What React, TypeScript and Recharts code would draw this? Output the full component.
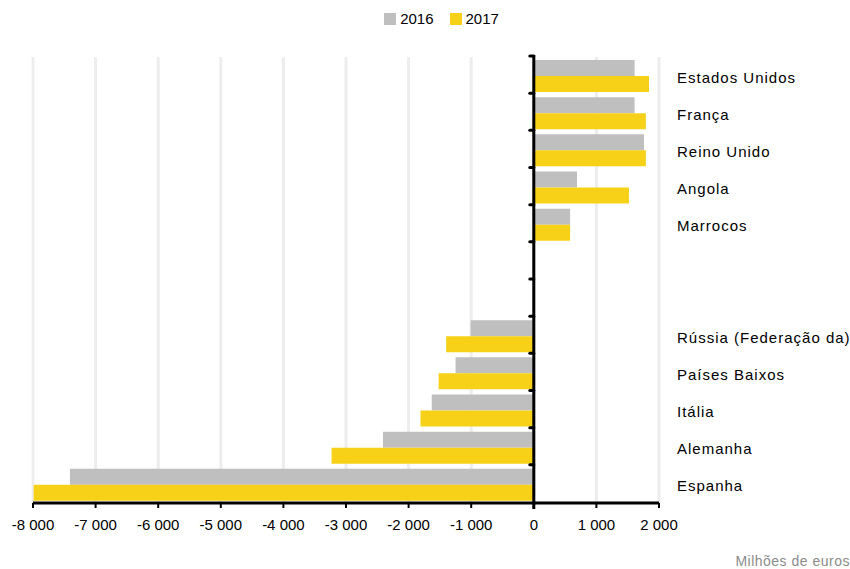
import React from 'react';
import { BarChart, Bar, XAxis, YAxis, CartesianGrid, Legend, ReferenceLine } from 'recharts';

// Países (as duas linhas em branco separam positivos de negativos)
const countries = [
    'Estados Unidos', 'França', 'Reino Unido', 'Angola', 'Marrocos', ' ', '  ',
    'Rússia (Federação da)', 'Países Baixos', 'Itália', 'Alemanha', 'Espanha',
];
const values2016 = [1610, 1610, 1760, 690, 580, null, null, -1010, -1250, -1630, -2410, -7410];
const values2017 = [1840, 1790, 1790, 1520, 580, null, null, -1400, -1520, -1810, -3230, -7990];
const xTicks = [-8000, -7000, -6000, -5000, -4000, -3000, -2000, -1000, 0, 1000, 2000];

const data = countries.map((name, i) => ({ name, '2016': values2016[i], '2017': values2017[i] }));

const FONT = '"Liberation Sans", Arial, sans-serif';
const GRAY = '#bfbfbf';
const YELLOW = '#f6d118';

const fmt = (n: number) => {
    if (n === 0) return '0';
    const abs = Math.abs(n);
    const s = abs >= 1000 ? `${Math.floor(abs / 1000)} ${String(abs % 1000).padStart(3, '0')}` : String(abs);
    return (n < 0 ? '-' : '') + s;
};

// linha do zero com pequenos traços entre as categorias
const ZeroLine = (props: any) => {
    const { x1 } = props;
    const top = Math.min(props.y1, props.y2);
    const bottom = Math.max(props.y1, props.y2);
    const n = countries.length;
    const step = (bottom - top) / n;
    return (
        <g>
            <line x1={x1} y1={top - 2} x2={x1} y2={bottom + 6} stroke="#000" strokeWidth={3} />
            {Array.from({ length: n }).map((_, i) => (
                <line key={i} x1={x1 - 4} x2={x1} y1={top - 1 + step * i} y2={top - 1 + step * i} stroke="#000" strokeWidth={3} strokeLinecap="round" />
            ))}
        </g>
    );
};

const LegendContent = () => (
    <div style={{ display: 'flex', justifyContent: 'center', fontSize: 15, fontFamily: FONT, color: '#000' }}>
        {[['2016', GRAY], ['2017', YELLOW]].map(([label, color]) => (
            <span key={label} style={{ display: 'inline-flex', alignItems: 'center', margin: '0 8px' }}>
                <span style={{ width: 12, height: 12, background: color, marginRight: 4, display: 'inline-block' }} />
                {label}
            </span>
        ))}
    </div>
);

const YTick = (props: any) => {
    const { x, y, payload } = props;
    return (
        <text x={x} y={y} dy={7} fill="#000" fontSize={15} fontFamily={FONT} letterSpacing={1} textAnchor="start">
            {payload.value}
        </text>
    );
};

const App: React.FC = () => {
    return (
        <div style={{ position: 'absolute', left: 0, top: 0, width: 850, height: 569, background: '#fff', fontFamily: FONT }}>
            <BarChart
                width={850}
                height={569}
                data={data}
                layout="vertical"
                margin={{ top: 30, right: 0, bottom: 36, left: 33 }}
                barCategoryGap={3}
                barGap={0}
            >
                <CartesianGrid horizontal={false} stroke="#ededed" strokeWidth={3} />
                <Legend verticalAlign="top" height={27} wrapperStyle={{ top: 10 }} content={<LegendContent />} />
                <XAxis
                    type="number"
                    domain={[-8000, 2000]}
                    ticks={xTicks}
                    tickFormatter={fmt}
                    axisLine={{ stroke: '#000', strokeWidth: 3 }}
                    tickLine={{ stroke: '#000', strokeWidth: 2 }}
                    tickSize={5}
                    tickMargin={11}
                    height={30}
                    tick={{ fill: '#000', fontSize: 15, fontFamily: FONT }}
                />
                <YAxis
                    type="category"
                    dataKey="name"
                    orientation="right"
                    width={191}
                    axisLine={false}
                    tickLine={false}
                    tickSize={0}
                    tickMargin={18}
                    interval={0}
                    tick={<YTick />}
                />
                <Bar dataKey="2016" fill={GRAY} isAnimationActive={false} />
                <Bar dataKey="2017" fill={YELLOW} isAnimationActive={false} />
                <ReferenceLine x={0} shape={ZeroLine} />
            </BarChart>
            <div style={{ position: 'absolute', right: 0, top: 553, fontSize: 14, color: '#8c8c8c', fontFamily: FONT, letterSpacing: 0.5 }}>
                Milhões de euros
            </div>
        </div>
    );
};

export default App;
